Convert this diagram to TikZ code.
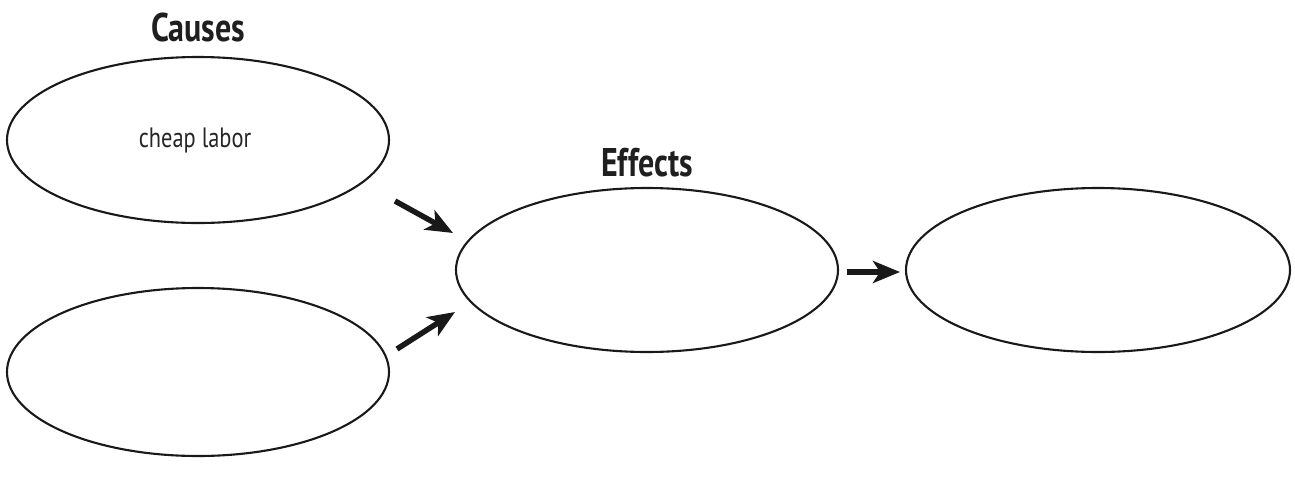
\documentclass[tikz,border=0pt]{standalone}
\usepackage{fontspec}
\setmainfont{PT Sans}[FakeStretch=0.8]
\usetikzlibrary{arrows.meta}
\begin{document}
\begin{tikzpicture}[x=1pt,y=-1pt,
  bubble/.style={draw=black!90,line width=2.1pt},
  heading/.style={font=\bfseries\fontsize{40}{44}\selectfont,text=black!88},
  entry/.style={font=\fontsize{28}{32}\selectfont,text=black!85},
  flow/.style={line width=5.5pt,draw=black!90,-{Stealth[length=27pt,width=22pt,inset=7pt]}}]
\useasboundingbox (0,0) rectangle (1295,482);
% cause bubbles
\draw[bubble] (198,140) ellipse [x radius=191,y radius=83];
\draw[bubble] (198,372) ellipse [x radius=191,y radius=84];
% effect bubbles
\draw[bubble] (647,270) ellipse [x radius=191,y radius=82];
\draw[bubble] (1098,270) ellipse [x radius=192,y radius=82];
% labels
\node[heading] (causes) at (198,27) {Causes};
\node[heading] (effects) at (647,163) {Effects};
\node[entry] (labor) at (195,140) {cheap labor};
% arrows
\coordinate (a1s) at (395,201); \coordinate (a1e) at (453,233);
\coordinate (a2s) at (397,349); \coordinate (a2e) at (455,312);
\coordinate (a3s) at (847,272); \coordinate (a3e) at (900,272);
\draw[flow] (a1s) -- (a1e);
\draw[flow] (a2s) -- (a2e);
\draw[flow] (a3s) -- (a3e);
\end{tikzpicture}
\end{document}
